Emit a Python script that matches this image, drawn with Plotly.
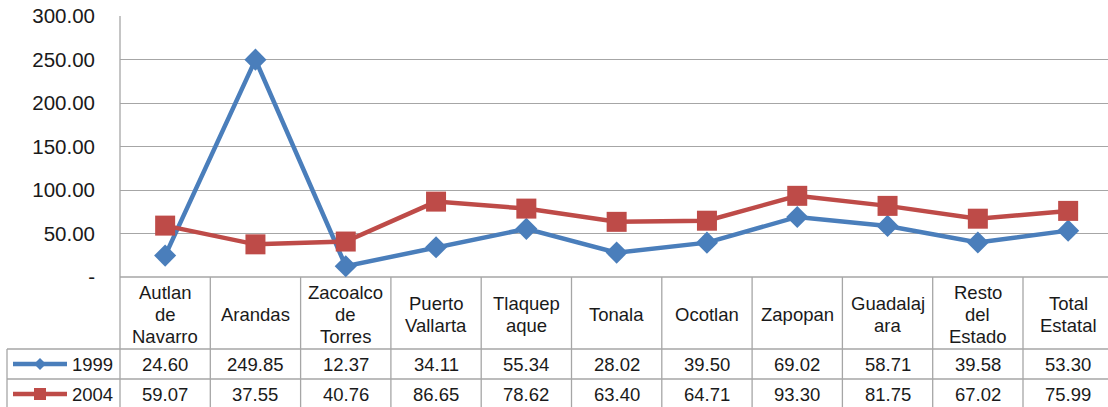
import plotly.graph_objects as go

categories = ["Autlan<br>de<br>Navarro", "Arandas", "Zacoalco<br>de<br>Torres", "Puerto<br>Vallarta",
              "Tlaquep<br>aque", "Tonala", "Ocotlan", "Zapopan", "Guadalaj<br>ara",
              "Resto<br>del<br>Estado", "Total<br>Estatal"]
series_names = ["1999", "2004"]
values_1999 = [24.60, 249.85, 12.37, 34.11, 55.34, 28.02, 39.50, 69.02, 58.71, 39.58, 53.30]
values_2004 = [59.07, 37.55, 40.76, 86.65, 78.62, 63.40, 64.71, 93.30, 81.75, 67.02, 75.99]
ytick_vals = [0, 50, 100, 150, 200, 250, 300]
ytick_text = ["-", "50.00", "100.00", "150.00", "200.00", "250.00", "300.00"]

W, H = 1108, 407
BLUE = "#4A7EBB"
RED = "#BE4B48"
GRID = "#A6A6A6"
FONT = "Liberation Sans, Arial, sans-serif"
TXT = "#1A1A1A"

def py(p):
    return 1 - p / H

def px(p):
    return p / W

x_idx = list(range(len(categories)))

plot_left = 120
plot_top, plot_bot = 16, 277
cat_w = 90.3
xmax = -0.5 + (W - plot_left) / cat_w

top_tbl, hdr_bot, row1_bot, row2_bot = 277, 349, 379, 409
row_centers = [(hdr_bot + row1_bot) / 2, (row1_bot + row2_bot) / 2]
LINE_H = 22

fig = go.Figure()
fig.add_trace(go.Scatter(x=x_idx, y=values_1999, mode="lines+markers", name=series_names[0],
                         line=dict(color=BLUE, width=4.5), cliponaxis=False,
                         marker=dict(symbol="diamond", size=17, color=BLUE)))
fig.add_trace(go.Scatter(x=x_idx, y=values_2004, mode="lines+markers", name=series_names[1],
                         line=dict(color=RED, width=4.5), cliponaxis=False,
                         marker=dict(symbol="square", size=20, color=RED)))

shapes = []
annotations = []
LW = 1.3
shapes.append(dict(type="line", xref="paper", yref="paper", x0=px(plot_left), x1=1,
                   y0=py(top_tbl), y1=py(top_tbl), line=dict(color=GRID, width=LW), layer="below"))
shapes.append(dict(type="line", xref="paper", yref="paper", x0=px(plot_left), x1=px(plot_left),
                   y0=py(plot_top), y1=py(row2_bot), line=dict(color=GRID, width=LW), layer="below"))
for i in range(1, len(categories) + 1):
    shapes.append(dict(type="line", xref="x", yref="paper", x0=i - 0.5, x1=i - 0.5,
                       y0=py(top_tbl), y1=py(row2_bot), line=dict(color=GRID, width=LW), layer="below"))
for yy in (hdr_bot, row1_bot):
    shapes.append(dict(type="line", xref="paper", yref="paper", x0=px(7), x1=1,
                       y0=py(yy), y1=py(yy), line=dict(color=GRID, width=LW), layer="below"))
shapes.append(dict(type="line", xref="paper", yref="paper", x0=px(7), x1=px(7),
                   y0=py(hdr_bot), y1=py(row2_bot), line=dict(color=GRID, width=LW), layer="below"))

# legend keys drawn in the table's first column
for col, sym, rc in ((BLUE, "diamond", row_centers[0]), (RED, "square", row_centers[1])):
    yc = py(rc)
    shapes.append(dict(type="line", xref="paper", yref="paper", x0=px(13), x1=px(67), y0=yc, y1=yc,
                       line=dict(color=col, width=4.5)))
    if sym == "diamond":
        d = 6
        path = (f"M {px(40 - d)} {py(rc)} L {px(40)} {py(rc - d)} L {px(40 + d)} {py(rc)} "
                f"L {px(40)} {py(rc + d)} Z")
        shapes.append(dict(type="path", xref="paper", yref="paper", path=path,
                           fillcolor=col, line=dict(color=col, width=0)))
    else:
        s = 6
        shapes.append(dict(type="rect", xref="paper", yref="paper", x0=px(40 - s), x1=px(40 + s),
                           y0=py(rc + s), y1=py(rc - s), fillcolor=col, line=dict(color=col, width=0)))

hdr_center = (top_tbl + hdr_bot) / 2 + 1
for i, c in enumerate(categories):
    lines = c.split("<br>")
    n = len(lines)
    for k, ln in enumerate(lines):
        yc = hdr_center + (k - (n - 1) / 2) * LINE_H
        annotations.append(dict(x=i, y=py(yc), xref="x", yref="paper",
                                text=ln, showarrow=False, font=dict(size=18.5, color=TXT, family=FONT),
                                align="center", yanchor="middle"))
for row_vals, rc in ((values_1999, row_centers[0]), (values_2004, row_centers[1])):
    for i, v in enumerate(row_vals):
        annotations.append(dict(x=i, y=py(rc), xref="x", yref="paper",
                                text=f"{v:.2f}", showarrow=False,
                                font=dict(size=18.5, color=TXT, family=FONT), yanchor="middle"))
for name, rc in zip(series_names, row_centers):
    annotations.append(dict(x=px(70), y=py(rc), xref="paper", yref="paper", text=name, showarrow=False,
                            xanchor="left", yanchor="middle",
                            font=dict(size=18.5, color=TXT, family=FONT)))

fig.update_layout(
    width=W, height=H,
    margin=dict(l=0, r=0, t=0, b=0, autoexpand=False),
    paper_bgcolor="white", plot_bgcolor="white",
    showlegend=False,
    shapes=shapes, annotations=annotations,
    xaxis=dict(domain=[px(plot_left), 1], range=[-0.5, xmax], showgrid=False, zeroline=False,
               showticklabels=False, showline=False, fixedrange=True, automargin=False),
    yaxis=dict(domain=[py(plot_bot), py(plot_top)], range=[0, 300], tickvals=ytick_vals, ticktext=ytick_text,
               showgrid=True, gridcolor=GRID, gridwidth=LW, zeroline=False, showline=False,
               ticks="", ticklabelstandoff=24, fixedrange=True, automargin=False,
               tickfont=dict(size=20.5, color=TXT, family=FONT)),
)
fig.write_html("out.html", post_script="document.body.style.margin='0';",
               config={"displayModeBar": False})
